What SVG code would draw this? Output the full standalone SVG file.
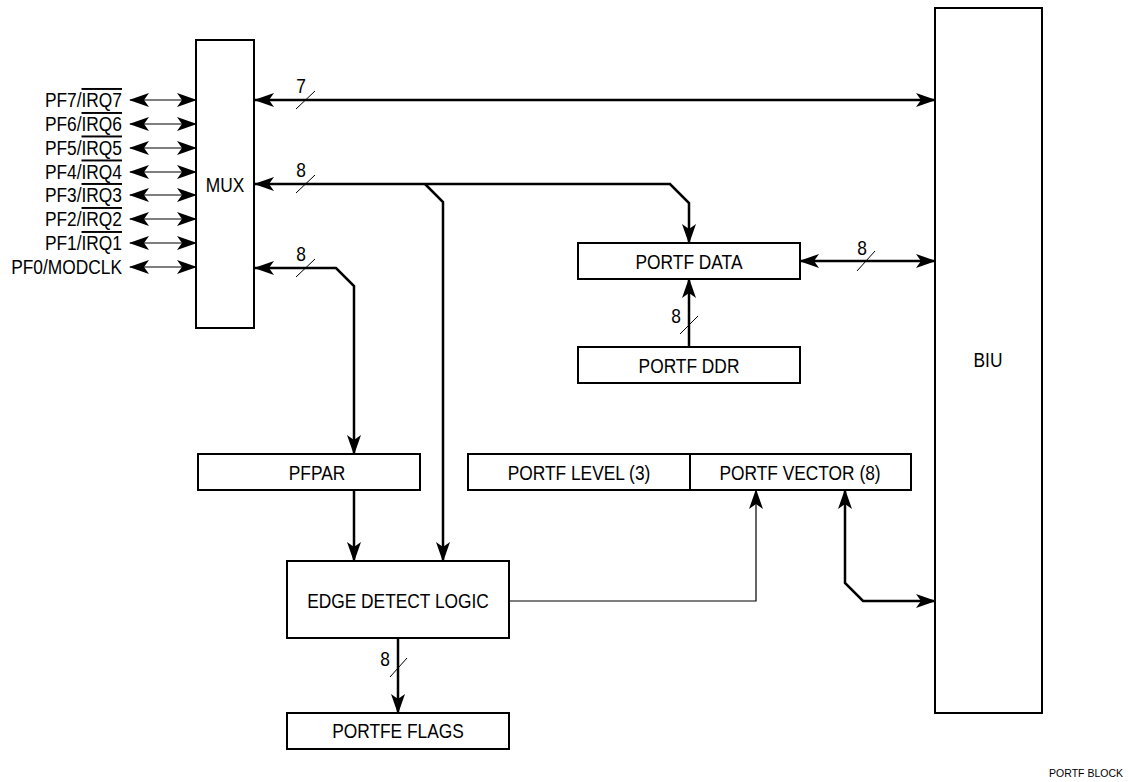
<svg xmlns="http://www.w3.org/2000/svg" width="1128" height="782" viewBox="0 0 1128 782">
<style>
.box{fill:#fff;stroke:#000;stroke-width:2}
.t{font-family:"Liberation Sans",Arial,Helvetica,sans-serif;font-size:19.5px;fill:#000}
.m{text-anchor:middle}
.e{text-anchor:end}
.bus{fill:none;stroke:#000;stroke-width:2.5;stroke-linejoin:miter}
.thin{fill:none;stroke:#000;stroke-width:1.2}
.sl{stroke:#000;stroke-width:1}
.ov{text-decoration:overline}
.small{font-family:"Liberation Sans",Arial,Helvetica,sans-serif;font-size:10.5px;fill:#000}
</style>
<defs>
<marker id="ah" viewBox="0 0 20 14" refX="19" refY="7" markerWidth="20" markerHeight="14" markerUnits="userSpaceOnUse" orient="auto-start-reverse">
<path d="M0,0 L20,7 L0,14 L5,7 Z" fill="#000"/>
</marker>
</defs>
<rect width="1128" height="782" fill="#fff"/>

<g id="connectors">
<g class="thin" marker-start="url(#ah)" marker-end="url(#ah)">
<line x1="130" y1="100" x2="196" y2="100"/>
<line x1="130" y1="124" x2="196" y2="124"/>
<line x1="130" y1="148" x2="196" y2="148"/>
<line x1="130" y1="172" x2="196" y2="172"/>
<line x1="130" y1="195" x2="196" y2="195"/>
<line x1="130" y1="219" x2="196" y2="219"/>
<line x1="130" y1="243" x2="196" y2="243"/>
<line x1="130" y1="267" x2="196" y2="267"/>
</g>
<line class="bus" x1="255" y1="100" x2="935" y2="100" marker-start="url(#ah)" marker-end="url(#ah)"/>
<line class="sl" x1="296" y1="109" x2="315" y2="91"/>
<text class="t m" transform="translate(301,93) scale(0.89,1)">7</text>
<path class="bus" d="M255,184 L670,184 L689,203 L689,243" marker-start="url(#ah)" marker-end="url(#ah)"/>
<path class="bus" d="M425,184 L443,202 L443,561" marker-end="url(#ah)"/>
<line class="sl" x1="296" y1="193" x2="315" y2="175"/>
<text class="t m" transform="translate(301,177) scale(0.89,1)">8</text>
<path class="bus" d="M255,268 L336,268 L354,286 L354,454" marker-start="url(#ah)" marker-end="url(#ah)"/>
<line class="sl" x1="296" y1="277" x2="315" y2="259"/>
<text class="t m" transform="translate(301,261) scale(0.89,1)">8</text>
<line class="bus" x1="800" y1="261" x2="935" y2="261" marker-start="url(#ah)" marker-end="url(#ah)"/>
<line class="sl" x1="857" y1="271" x2="875" y2="251"/>
<text class="t m" transform="translate(862,255) scale(0.89,1)">8</text>
<line class="bus" x1="689" y1="347" x2="689" y2="279" marker-end="url(#ah)"/>
<line class="sl" x1="680" y1="334" x2="698" y2="316"/>
<text class="t m" transform="translate(676,323) scale(0.89,1)">8</text>
<line class="bus" x1="354" y1="490" x2="354" y2="561" marker-end="url(#ah)"/>
<line class="bus" x1="398" y1="638" x2="398" y2="713" marker-end="url(#ah)"/>
<line class="sl" x1="390" y1="677" x2="407" y2="658"/>
<text class="t m" transform="translate(385,666) scale(0.89,1)">8</text>
<path class="thin" d="M509,601 L756,601 L756,490" marker-end="url(#ah)"/>
<path class="bus" d="M845,490 L845,583 L863,601 L935,601" marker-start="url(#ah)" marker-end="url(#ah)"/>
</g>

<g id="pins">
<text class="t e" transform="translate(122,107) scale(0.89,1)">PF7/<tspan class="ov">IRQ7</tspan></text>
<text class="t e" transform="translate(122,131) scale(0.89,1)">PF6/<tspan class="ov">IRQ6</tspan></text>
<text class="t e" transform="translate(122,154.5) scale(0.89,1)">PF5/<tspan class="ov">IRQ5</tspan></text>
<text class="t e" transform="translate(122,178.5) scale(0.89,1)">PF4/<tspan class="ov">IRQ4</tspan></text>
<text class="t e" transform="translate(122,202) scale(0.89,1)">PF3/<tspan class="ov">IRQ3</tspan></text>
<text class="t e" transform="translate(122,226) scale(0.89,1)">PF2/<tspan class="ov">IRQ2</tspan></text>
<text class="t e" transform="translate(122,250) scale(0.89,1)">PF1/<tspan class="ov">IRQ1</tspan></text>
<text class="t e" transform="translate(122,274) scale(0.89,1)">PF0/MODCLK</text>
</g>

<g id="mux">
<rect class="box" x="196" y="40" width="58" height="288"/>
<text class="t m" transform="translate(225,191.5) scale(0.89,1)">MUX</text>
</g>
<g id="biu">
<rect class="box" x="935" y="8" width="107" height="705"/>
<text class="t m" transform="translate(988,367) scale(0.89,1)">BIU</text>
</g>
<g id="portf-data">
<rect class="box" x="578" y="243" width="222" height="36"/>
<text class="t m" transform="translate(689,269) scale(0.89,1)">PORTF DATA</text>
</g>
<g id="portf-ddr">
<rect class="box" x="578" y="347" width="222" height="36"/>
<text class="t m" transform="translate(689,373) scale(0.89,1)">PORTF DDR</text>
</g>
<g id="pfpar">
<rect class="box" x="198" y="454" width="222" height="36"/>
<text class="t m" transform="translate(317,480) scale(0.89,1)">PFPAR</text>
</g>
<g id="portf-level">
<rect class="box" x="468" y="454" width="222" height="36"/>
<text class="t m" transform="translate(579,480) scale(0.89,1)">PORTF LEVEL (3)</text>
</g>
<g id="portf-vector">
<rect class="box" x="690" y="454" width="221" height="36"/>
<text class="t m" transform="translate(800,480) scale(0.89,1)">PORTF VECTOR (8)</text>
</g>
<g id="edge-detect">
<rect class="box" x="287" y="561" width="222" height="77"/>
<text class="t m" transform="translate(398,608) scale(0.89,1)">EDGE DETECT LOGIC</text>
</g>
<g id="portfe-flags">
<rect class="box" x="287" y="713" width="222" height="36"/>
<text class="t m" transform="translate(398,738) scale(0.89,1)">PORTFE FLAGS</text>
</g>
<text class="small" x="1123" y="777" text-anchor="end">PORTF BLOCK</text>
</svg>
